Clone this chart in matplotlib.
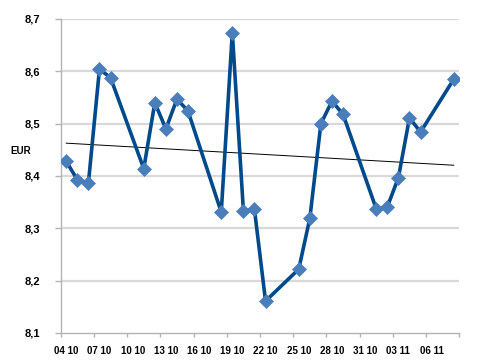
import matplotlib
matplotlib.use("Agg")
import matplotlib.pyplot as plt
import numpy as np
import pandas as pd

dates = ["2010-10-04", "2010-10-05", "2010-10-06", "2010-10-07", "2010-10-08",
         "2010-10-11", "2010-10-12", "2010-10-13", "2010-10-14", "2010-10-15",
         "2010-10-18", "2010-10-19", "2010-10-20", "2010-10-21", "2010-10-22",
         "2010-10-25", "2010-10-26", "2010-10-27", "2010-10-28", "2010-10-29",
         "2010-11-01", "2010-11-02", "2010-11-03", "2010-11-04", "2010-11-05",
         "2010-11-08"]
values = [8.428, 8.393, 8.386, 8.604, 8.588,
          8.414, 8.540, 8.490, 8.547, 8.524,
          8.331, 8.674, 8.334, 8.336, 8.161,
          8.222, 8.319, 8.500, 8.543, 8.518,
          8.337, 8.341, 8.397, 8.511, 8.484,
          8.585]
start_date = "2010-10-04"
end_date = "2010-11-08"
y_ticks = [8.1, 8.2, 8.3, 8.4, 8.5, 8.6, 8.7]
y_label = "EUR"

plt.rcParams['font.family'] = ['Liberation Sans', 'DejaVu Sans']

d = pd.to_datetime(dates)
start = pd.Timestamp(start_date)
ndays = (pd.Timestamp(end_date) - start).days + 1
x = np.array([(di - start).days for di in d]) + 0.5

fig = plt.figure(figsize=(4.96, 3.61), dpi=100)
ax = fig.add_axes([60.7/496, 1 - 333/361, (459.3 - 60.7)/496, (333 - 19)/361])

ax.set_xlim(0, ndays)
ax.set_ylim(y_ticks[0], y_ticks[-1])

for yv in y_ticks[1:]:
    ax.axhline(yv, color='#d9d9d9', lw=1.6, zorder=0)

ax.plot(x, values, color='#004a8c', lw=2.6, zorder=3,
        marker='D', markersize=7.2, markerfacecolor='#4a7ebb',
        markeredgecolor='#4a7ebb', markeredgewidth=0.5)

coef = np.polyfit(x, values, 1)
ax.plot([x[0], x[-1]], np.polyval(coef, [x[0], x[-1]]), color='black', lw=0.7, zorder=2)

for s in ['top', 'right']:
    ax.spines[s].set_visible(False)
for s in ['left', 'bottom']:
    ax.spines[s].set_color('#b3b3b3')
    ax.spines[s].set_linewidth(1.0)

ax.set_yticks(y_ticks)
ax.set_yticklabels([f"{v:.1f}".replace('.', ',') for v in y_ticks],
                   fontsize=8, fontweight='bold')
ax.tick_params(axis='y', length=4, width=1, color='#b3b3b3', pad=11)

major = np.arange(0, ndays + 1, 3)
ax.set_xticks(major)
ax.set_xticklabels([''] * len(major))
ax.tick_params(axis='x', which='major', length=3, width=1, color='#b3b3b3')
label_days = np.arange(0, ndays, 3)
ax.set_xticks(label_days + 0.5, minor=True)
ax.set_xticklabels([(start + pd.Timedelta(days=int(k))).strftime('%d %m') for k in label_days],
                   minor=True, fontsize=7, fontweight='bold')
ax.tick_params(axis='x', which='minor', length=0, pad=9)

fig.text(10/496, 1 - 151/361, y_label, fontsize=7, fontweight='bold', va='center', ha='left')

fig.savefig('out.png', dpi=100)
